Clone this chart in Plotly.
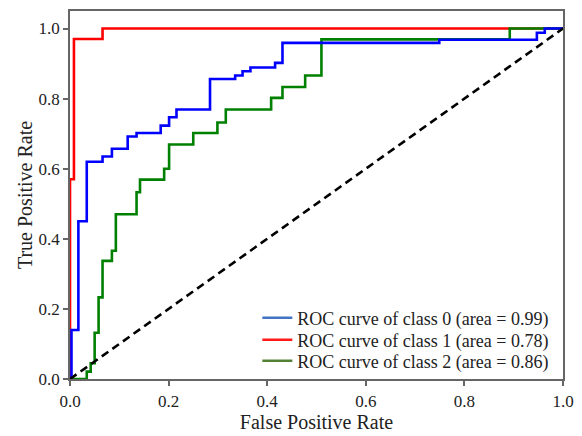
import plotly.graph_objects as go

# ROC data (step vertices: x where rise happens, y after rise)
fpr_class0 = [0, 0.003, 0.017, 0.034, 0.066, 0.085, 0.117, 0.135, 0.184, 0.201, 0.216,
              0.284, 0.335, 0.350, 0.366, 0.416, 0.431, 0.749, 0.947, 0.963, 1.0]
tpr_class0 = [0, 0.14, 0.45, 0.62, 0.635, 0.657, 0.692, 0.702, 0.723, 0.747, 0.769,
              0.856, 0.866, 0.878, 0.889, 0.902, 0.959, 0.968, 0.988, 1.0, 1.0]

fpr_class1 = [0, 0.0, 0.008, 0.066, 1.0]
tpr_class1 = [0, 0.57, 0.97, 1.0, 1.0]

fpr_class2 = [0, 0.034, 0.042, 0.050, 0.058, 0.066, 0.085, 0.093, 0.135, 0.142, 0.191,
              0.201, 0.250, 0.299, 0.316, 0.408, 0.431, 0.477, 0.510, 0.892, 1.0]
tpr_class2 = [0, 0.021, 0.045, 0.132, 0.233, 0.337, 0.366, 0.470, 0.533, 0.569, 0.600,
              0.669, 0.702, 0.732, 0.769, 0.802, 0.833, 0.866, 0.969, 1.0, 1.0]

labels = ["ROC curve of class 0 (area = 0.99)",
          "ROC curve of class 1 (area = 0.78)",
          "ROC curve of class 2 (area = 0.86)"]
line_colors = ["#0000FF", "#FF0000", "#008000"]
legend_colors = ["#4472C4", "#FF1A1A", "#548235"]
tick_vals = [0.0, 0.2, 0.4, 0.6, 0.8, 1.0]
tick_text = ["0.0", "0.2", "0.4", "0.6", "0.8", "1.0"]

SERIF = "Liberation Serif, Times New Roman, serif"

fig = go.Figure()
curves = [(fpr_class0, tpr_class0), (fpr_class1, tpr_class1), (fpr_class2, tpr_class2)]
# draw order: class 1 (red), class 2 (green), class 0 (blue) on top
for idx in [1, 2, 0]:
    fx, ty = curves[idx]
    fig.add_trace(go.Scatter(x=fx, y=ty, mode="lines",
                             line=dict(color=line_colors[idx], width=2.6, shape="hv"),
                             showlegend=False, hoverinfo="skip"))

fig.add_trace(go.Scatter(x=[0, 1], y=[0, 1], mode="lines",
                         line=dict(color="black", width=2.6, dash="8px,5px"),
                         showlegend=False, hoverinfo="skip"))

legend_names = ["legend", "legend2", "legend3"]
for lab, c, lg in zip(labels, legend_colors, legend_names):
    fig.add_trace(go.Scatter(x=[None], y=[None], mode="lines", name=lab, legend=lg,
                             line=dict(color=c, width=2.6)))

axis_common = dict(
    showline=True, mirror=True, linecolor="#666666", linewidth=1.5,
    ticks="outside", ticklen=5, tickwidth=1.5, tickcolor="#666666",
    showgrid=False, zeroline=False, automargin=False,
    tickfont=dict(family=SERIF, size=17, color="#222222"),
    tickvals=tick_vals, ticktext=tick_text,
)

legend_style = dict(xanchor="left", yanchor="middle",
                    font=dict(family=SERIF, size=18, color="#222222"),
                    bgcolor="rgba(255,255,255,0)", borderwidth=0)
row_y = [0.1658, 0.106, 0.0489]

fig.update_layout(
    width=582, height=436,
    margin=dict(l=70, r=19, t=11, b=57),
    paper_bgcolor="white", plot_bgcolor="white",
    xaxis=dict(range=[0, 1], ticklabelstandoff=1,
               title=dict(text="False Positive Rate",
                          font=dict(family=SERIF, size=20, color="#222222"), standoff=5),
               **axis_common),
    yaxis=dict(range=[0, 1.05],
               title=dict(text="True Positive Rate",
                          font=dict(family=SERIF, size=20, color="#222222"), standoff=1),
               **axis_common),
    legend=dict(x=0.380, y=row_y[0], **legend_style),
    legend2=dict(x=0.380, y=row_y[1], **legend_style),
    legend3=dict(x=0.380, y=row_y[2], **legend_style),
    font=dict(family=SERIF),
)

fig.write_html("out.html")
